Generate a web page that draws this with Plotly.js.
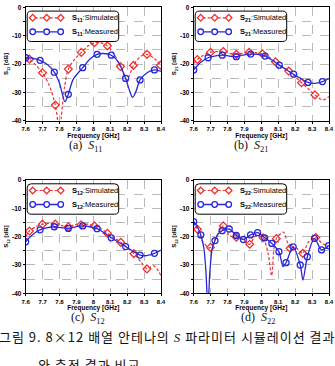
<!DOCTYPE html>
<html>
<head>
<meta charset="utf-8">
<script src="https://cdn.plot.ly/plotly-3.0.1.min.js"></script>
<style>html,body{margin:0;padding:0;background:#fff;}#chart{width:335px;height:366px;}</style>
</head>
<body>
<div id="chart"></div>
<script>
// ---------- data ----------
const xTickVals = [7.6, 7.7, 7.8, 7.9, 8.0, 8.1, 8.2, 8.3, 8.4];
const xTickText = ['7.6', '7.7', '7.8', '7.9', '8', '8.1', '8.2', '8.3', '8.4'];
const yTickVals = [0, -10, -20, -30, -40];
const yTickText = ['0', '-10', '-20', '-30', '-40'];
const yMinorVals = [-5, -15, -25, -35];

// (a) S11
const s11SimFreq = [7.60,7.622,7.66,7.699,7.74,7.775,7.79,7.80,7.81,7.83,7.852,7.89,7.929,7.97,8.006,8.04,8.083,8.12,8.16,8.198,8.237,8.28,8.317,8.36,8.40];
const s11Sim     = [-17.6,-18.3,-20.4,-23.1,-27.6,-34.5,-40.5,-47,-39,-28,-21.8,-18.3,-15.9,-13.6,-12.5,-12.4,-13.6,-16.2,-20.9,-25.6,-20.5,-17.3,-16.6,-18.0,-20.6];
const s11SimMkFreq = [7.622,7.699,7.775,7.852,7.929,8.006,8.083,8.160,8.237,8.317,8.396];
const s11SimMk     = [-18.3,-23.1,-34.5,-21.8,-15.9,-12.5,-13.6,-20.9,-20.5,-16.6,-20.4];
const s11MeasFreq = [7.60,7.64,7.685,7.73,7.769,7.80,7.832,7.852,7.88,7.937,7.98,8.022,8.06,8.106,8.15,8.191,8.215,8.232,8.25,8.276,8.32,8.361,8.40];
const s11Meas     = [-17.8,-17.9,-18.7,-20.3,-22.9,-26.8,-33.3,-30.7,-25.5,-21.3,-18.2,-16.6,-16.3,-16.9,-19.5,-25.1,-29.5,-31.8,-30.0,-25.6,-23.0,-22.1,-22.6];
const s11MeasMkFreq = [7.600,7.685,7.769,7.852,7.937,8.022,8.106,8.191,8.276,8.361];
const s11MeasMk     = [-17.8,-18.7,-22.9,-30.7,-21.3,-16.6,-16.9,-25.1,-25.6,-22.1];

// (b) S21
const s21SimFreq = [7.60,7.622,7.66,7.699,7.74,7.775,7.81,7.852,7.89,7.927,7.97,8.006,8.045,8.083,8.12,8.162,8.20,8.238,8.28,8.317,8.364,8.40];
const s21Sim     = [-19.8,-18.4,-16.8,-15.9,-15.6,-15.6,-16.2,-16.6,-16.2,-15.9,-16.0,-16.4,-17.5,-19.2,-20.8,-22.5,-24.4,-26.6,-28.9,-30.9,-32.7,-31.5];
const s21SimMkFreq = [7.622,7.699,7.775,7.852,7.927,8.006,8.083,8.162,8.238,8.317];
const s21SimMk     = [-18.4,-15.9,-15.6,-16.6,-15.9,-16.4,-19.2,-22.5,-26.6,-30.9];
const s21MeasFreq = [7.60,7.64,7.685,7.73,7.769,7.81,7.852,7.89,7.937,7.98,8.022,8.06,8.106,8.15,8.191,8.23,8.276,8.315,8.361,8.40];
const s21Meas     = [-22.1,-19.5,-17.8,-17.1,-16.9,-17.2,-17.4,-16.9,-16.5,-16.6,-17.2,-18.5,-20.4,-22.1,-23.6,-25.0,-26.5,-26.8,-26.2,-25.1];
const s21MeasMkFreq = [7.600,7.685,7.769,7.852,7.937,8.022,8.106,8.191,8.276,8.361];
const s21MeasMk     = [-22.1,-17.8,-16.9,-17.4,-16.5,-17.2,-20.4,-23.6,-26.5,-26.2];

// (c) S12
const s12SimFreq = [7.60,7.622,7.66,7.699,7.74,7.775,7.81,7.852,7.89,7.927,7.97,8.006,8.045,8.083,8.12,8.162,8.20,8.24,8.28,8.317,8.337,8.355,8.375,8.40];
const s12Sim     = [-20.0,-18.0,-16.5,-15.6,-15.3,-15.6,-16.0,-16.5,-15.8,-15.8,-15.6,-16.2,-17.2,-18.8,-20.3,-22.0,-24.0,-26.0,-28.8,-31.4,-30.8,-30.2,-31.3,-33.8];
const s12SimMkFreq = [7.622,7.699,7.775,7.852,7.927,8.006,8.083,8.162,8.24,8.317];
const s12SimMk     = [-18.0,-15.6,-15.6,-16.5,-15.8,-16.2,-18.8,-22.0,-26.0,-31.4];
const s12MeasFreq = [7.60,7.64,7.685,7.73,7.769,7.81,7.852,7.89,7.937,7.98,8.022,8.06,8.106,8.15,8.191,8.23,8.276,8.315,8.361,8.40];
const s12Meas     = [-21.8,-19.3,-17.6,-16.8,-16.5,-16.8,-17.1,-16.6,-16.2,-16.5,-17.2,-18.5,-20.4,-22.0,-23.5,-25.0,-26.5,-26.7,-25.9,-24.7];
const s12MeasMkFreq = [7.600,7.685,7.769,7.852,7.937,8.022,8.106,8.191,8.276,8.361];
const s12MeasMk     = [-21.8,-17.6,-16.5,-17.1,-16.2,-17.2,-20.4,-23.5,-26.5,-25.9];

// (d) S22
const s22SimFreq = [7.60,7.622,7.65,7.688,7.699,7.73,7.775,7.81,7.852,7.89,7.931,7.965,8.01,8.04,8.061,8.075,8.089,8.13,8.17,8.197,8.225,8.245,8.28,8.322,8.36,8.40];
const s22Sim     = [-14.7,-17.4,-21.5,-23.9,-23.8,-20.5,-16.2,-19.5,-20.2,-21.0,-22.7,-19.8,-20.4,-26.0,-33.8,-24.0,-20.7,-18.4,-24.1,-23.6,-25.0,-25.9,-21.8,-20.3,-22.4,-23.3];
const s22SimMkFreq = [7.622,7.699,7.775,7.852,7.931,8.01,8.089,8.17,8.245,8.322];
const s22SimMk     = [-17.4,-23.8,-16.2,-20.2,-22.7,-20.4,-20.7,-24.1,-25.9,-20.3];
const s22MeasFreq = [7.600,7.622,7.642,7.66,7.672,7.684,7.696,7.71,7.726,7.745,7.768,7.810,7.852,7.894,7.936,7.978,8.020,8.062,8.104,8.128,8.146,8.188,8.230,8.246,8.272,8.314,8.356,8.398];
const s22Meas     = [-14.7,-16.5,-19.4,-24.0,-32.0,-45.0,-32.0,-24.0,-21.4,-19.0,-17.9,-17.3,-19.6,-21.0,-19.4,-18.6,-20.4,-22.4,-25.3,-30.6,-29.2,-23.6,-30.0,-35.3,-27.1,-20.6,-24.7,-23.2];
const s22MeasMkFreq = [7.600,7.642,7.726,7.768,7.810,7.852,7.894,7.936,7.978,8.020,8.062,8.104,8.146,8.188,8.230,8.272,8.314,8.356,8.398];
const s22MeasMk     = [-14.7,-19.4,-21.4,-17.9,-17.3,-19.6,-21.0,-19.4,-18.6,-20.4,-22.4,-25.3,-29.2,-23.6,-30.0,-27.1,-20.6,-24.7,-23.2];

const panelNames = ['11', '21', '12', '22'];
const captionLetters = ['(a)', '(b)', '(c)', '(d)'];
const legendLabels = ['Simulated', 'Measured'];
const captionLine1 = '그림 9. 8×12 배열 안테나의 <span style="font-family:Liberation Serif"><i>S</i></span> 파라미터 시뮬레이션 결과';
const captionLine2 = '와 측정 결과 비교';

// ---------- styling ----------
const RED = '#f03030';
const BLUE = '#2828d8';
const W = 335, H = 366;
const px = v => v / W;
const py = v => 1 - v / H;

// plot areas in pixels: [left, right, top, bottom]
const boxes = [
  [25.7, 161, 7.3, 120.7],
  [193.7, 329, 7.3, 120.7],
  [25.7, 161, 180, 293.3],
  [193.7, 329, 180, 293.3]
];
const captionCenters = [[85, 146], [251, 146], [88, 318], [258, 318]];

const series = [
  [s11SimFreq, s11Sim, s11SimMkFreq, s11SimMk, s11MeasFreq, s11Meas, s11MeasMkFreq, s11MeasMk],
  [s21SimFreq, s21Sim, s21SimMkFreq, s21SimMk, s21MeasFreq, s21Meas, s21MeasMkFreq, s21MeasMk],
  [s12SimFreq, s12Sim, s12SimMkFreq, s12SimMk, s12MeasFreq, s12Meas, s12MeasMkFreq, s12MeasMk],
  [s22SimFreq, s22Sim, s22SimMkFreq, s22SimMk, s22MeasFreq, s22Meas, s22MeasMkFreq, s22MeasMk]
];

const traces = [];
const layout = {
  width: W, height: H,
  margin: {l: 0, r: 0, t: 0, b: 0},
  paper_bgcolor: '#ffffff', plot_bgcolor: '#ffffff',
  font: {family: 'Liberation Sans, Arial, sans-serif', size: 7, color: '#000'},
  showlegend: false,
  annotations: [],
  shapes: []
};

// helpers for the drawn legend boxes (pixel -> paper)
function roundRect(x0, y0, x1, y1, r) {
  const P = (x, y) => px(x).toFixed(5) + ',' + py(y).toFixed(5);
  return 'M' + P(x0 + r, y0) + ' L' + P(x1 - r, y0) + ' Q' + P(x1, y0) + ' ' + P(x1, y0 + r) +
    ' L' + P(x1, y1 - r) + ' Q' + P(x1, y1) + ' ' + P(x1 - r, y1) +
    ' L' + P(x0 + r, y1) + ' Q' + P(x0, y1) + ' ' + P(x0, y1 - r) +
    ' L' + P(x0, y0 + r) + ' Q' + P(x0, y0) + ' ' + P(x0 + r, y0) + ' Z';
}
function diamondPath(cx, cy, r) {
  const P = (x, y) => px(x).toFixed(5) + ',' + py(y).toFixed(5);
  return 'M' + P(cx, cy - r) + ' L' + P(cx + r, cy) + ' L' + P(cx, cy + r) + ' L' + P(cx - r, cy) + ' Z';
}

const gridCol = '#a8a8a8';
series.forEach((s, i) => {
  const n = i === 0 ? '' : String(i + 1);
  const xa = 'x' + n, ya = 'y' + n;
  const [l, r, t, b] = boxes[i];
  const common = {xaxis: xa, yaxis: ya, showlegend: false, hoverinfo: 'skip'};
  traces.push(Object.assign({x: s[0], y: s[1], mode: 'lines', line: {color: RED, width: 1.2, dash: '3px,2px', shape: 'spline', smoothing: 0.8}}, common));
  traces.push(Object.assign({x: s[2], y: s[3], mode: 'markers', marker: {symbol: 'diamond-open', size: 6, color: RED, line: {width: 1.3, color: RED}}}, common));
  traces.push(Object.assign({x: s[4], y: s[5], mode: 'lines', line: {color: BLUE, width: 1.3, shape: 'spline', smoothing: 0.8}}, common));
  traces.push(Object.assign({x: s[6], y: s[7], mode: 'markers', marker: {symbol: 'circle-open', size: 6, color: BLUE, line: {width: 1.3, color: BLUE}}}, common));

  layout['xaxis' + n] = {
    domain: [px(l), px(r)], anchor: ya, range: [7.6, 8.4],
    tickmode: 'array', tickvals: xTickVals, ticktext: xTickText,
    showline: true, mirror: true, linecolor: '#000', linewidth: 1,
    ticks: 'outside', ticklen: 2, tickcolor: '#000', tickwidth: 1,
    showgrid: true, gridcolor: gridCol, griddash: 'dash', gridwidth: 0.8, zeroline: false,
    tickfont: {size: 6, weight: 'bold'},
    title: {text: 'Frequency [GHz]', font: {size: 6.5, weight: 'bold'}, standoff: 1},
    fixedrange: true
  };
  layout['yaxis' + n] = {
    domain: [py(b), py(t)], anchor: xa, range: [-40, 0],
    tickmode: 'array', tickvals: yTickVals, ticktext: yTickText,
    showline: true, mirror: true, linecolor: '#000', linewidth: 1,
    ticks: 'outside', ticklen: 2, tickcolor: '#000', tickwidth: 1,
    showgrid: true, gridcolor: gridCol, griddash: 'dash', gridwidth: 0.8, zeroline: false,
    minor: {tickmode: 'array', tickvals: yMinorVals, showgrid: true, gridcolor: gridCol, griddash: 'dash', gridwidth: 0.8, ticks: 'outside', ticklen: 2, tickcolor: '#000'},
    tickfont: {size: 6.5, weight: 'bold'},
    title: {text: 'S<sub>' + panelNames[i] + '</sub> [dB]', font: {size: 6, weight: 'bold'}, standoff: 2},
    fixedrange: true
  };

  // legend box (drawn)
  const bx0 = l + 1.5, bx1 = l + 93, by0 = t + 3.8, by1 = t + 34.2;
  layout.shapes.push({type: 'path', xref: 'paper', yref: 'paper', path: roundRect(bx0, by0, bx1, by1, 4),
    fillcolor: '#ffffff', line: {color: '#000', width: 1}, layer: 'above'});
  const rows = [t + 10.5, t + 24.5];
  const cols = [RED, BLUE];
  rows.forEach((ry, k) => {
    layout.shapes.push({type: 'line', xref: 'paper', yref: 'paper', x0: px(l + 4), x1: px(l + 38), y0: py(ry), y1: py(ry),
      line: {color: cols[k], width: k === 0 ? 1.2 : 1.3, dash: k === 0 ? '3px,2px' : 'solid'}, layer: 'above'});
    [l + 7, l + 21, l + 35].forEach(mx => {
      if (k === 0) {
        layout.shapes.push({type: 'path', xref: 'paper', yref: 'paper', path: diamondPath(mx, ry, 3.3),
          fillcolor: '#ffffff', line: {color: RED, width: 1.3}, layer: 'above'});
      } else {
        layout.shapes.push({type: 'circle', xref: 'paper', yref: 'paper', x0: px(mx - 2.8), x1: px(mx + 2.8), y0: py(ry - 2.8), y1: py(ry + 2.8),
          fillcolor: '#ffffff', line: {color: BLUE, width: 1.3}, layer: 'above'});
      }
    });
    layout.annotations.push({
      x: px(l + 44.5), y: py(ry), xref: 'paper', yref: 'paper', xanchor: 'left', yanchor: 'middle', showarrow: false,
      text: '<b>S<sub>' + panelNames[i] + '</sub></b>:' + legendLabels[k],
      font: {family: 'Liberation Sans, Arial, sans-serif', size: 7.5, color: '#000'}
    });
  });

  layout.annotations.push({
    x: px(captionCenters[i][0]), y: py(captionCenters[i][1]), xref: 'paper', yref: 'paper',
    xanchor: 'center', yanchor: 'middle', showarrow: false,
    text: captionLetters[i] + '  <i>S</i><sub>' + panelNames[i] + '</sub>',
    font: {family: 'Liberation Serif, Times New Roman, serif', size: 12, color: '#111'}
  });
});

layout.annotations.push({
  x: px(167), y: py(336), xref: 'paper', yref: 'paper', xanchor: 'center', yanchor: 'middle', showarrow: false,
  text: '<span style="letter-spacing:1px">' + captionLine1 + '</span>',
  font: {family: 'Noto Sans CJK KR, sans-serif', size: 13, color: '#111'}
});
layout.annotations.push({
  x: px(36), y: py(364), xref: 'paper', yref: 'paper', xanchor: 'left', yanchor: 'middle', showarrow: false,
  text: '<span style="letter-spacing:1px">' + captionLine2 + '</span>',
  font: {family: 'Noto Sans CJK KR, sans-serif', size: 13, color: '#111'}
});

Plotly.newPlot('chart', traces, layout, {staticPlot: true, displayModeBar: false});
</script>
</body>
</html>
